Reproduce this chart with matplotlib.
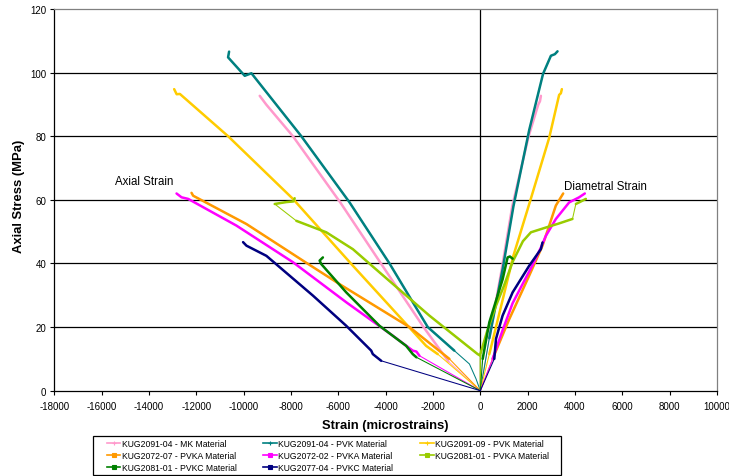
import matplotlib
matplotlib.use("Agg")
import matplotlib.pyplot as plt
from matplotlib.lines import Line2D
from matplotlib.patches import Rectangle

plt.rcParams['font.family'] = ['Liberation Sans', 'DejaVu Sans']
plt.rcParams['axes.unicode_minus'] = False

# ---------------- data (strain in microstrains, stress in MPa) ----------------
# each list of runs: densely recorded parts; joins between runs are sparse (thin)
NAMES = ["KUG2091-04 - MK Material", "KUG2091-04 - PVK Material",
         "KUG2091-09 - PVK Material", "KUG2072-07 - PVKA Material",
         "KUG2072-02 - PVKA Material", "KUG2081-01 - PVKA Material",
         "KUG2081-01 - PVKC Material", "KUG2077-04 - PVKC Material"]
COLORS = ["#FF99CC", "#008080", "#FFCC00", "#FF9900",
          "#FF00FF", "#99CC00", "#008000", "#000080"]

MK_AX_X = [[-1350, -2400, -4200, -5900, -7917, -9050, -9200, -9321]]
MK_AX_Y = [[9.2, 20.0, 40.0, 59.0, 80.0, 90.0, 91.5, 92.7]]
MK_DI_X = [[380, 900, 1350, 2040, 2450, 2520, 2560]]
MK_DI_Y = [[16.5, 38.0, 58.0, 80.0, 90.0, 91.0, 92.7]]

PVK1_AX_X = [[-180], [-460], [-1100, -2221, -3838, -5525, -7563, -9671, -9954, -10658, -10615]]
PVK1_AX_Y = [[3.7], [8.4], [12.6, 20.0, 40.0, 59.2, 80.0, 99.8, 99.0, 104.8, 106.6]]
PVK1_DI_X = [[380, 950, 1400, 2067, 2650, 2982, 3150, 3262]]
PVK1_DI_Y = [[16.5, 38.5, 58.0, 82.0, 99.6, 105.3, 105.8, 106.7]]

PVK2_AX_X = [[-1800, -2290, -5386, -7917, -10656, -12695, -12830, -12935]]
PVK2_AX_Y = [[11.5, 14.1, 39.3, 60.3, 80.0, 93.3, 93.2, 94.8]]
PVK2_DI_X = [[380, 941, 1400, 2100, 2910, 3330, 3403, 3445]]
PVK2_DI_Y = [[11.5, 28.5, 42.5, 59.5, 79.5, 93.0, 93.5, 94.8]]

PVKA1_AX_X = [[-1307, -2995, -5947, -7351, -9882, -12134, -12202]]
PVKA1_AX_Y = [[10.0, 20.0, 33.5, 40.2, 52.4, 61.3, 62.2]]
PVKA1_DI_X = [[520, 1223, 2067, 2628, 3191, 3501]]
PVKA1_DI_Y = [[10.0, 22.5, 36.2, 45.6, 58.2, 62.0]]

PVKA2_AX_X = [[-2573, -2700, -2855, -3699, -5664, -7917, -10304, -12345, -12624, -12835]]
PVKA2_AX_Y = [[11.0, 12.3, 12.6, 17.3, 27.8, 40.4, 51.9, 60.3, 60.8, 62.0]]
PVKA2_DI_X = [[520, 941, 1364, 1784, 2206, 2559, 2771, 3193, 3754, 4175, 4415]]
PVKA2_DI_Y = [[10.0, 19.0, 27.5, 33.5, 39.5, 45.0, 48.7, 54.0, 59.2, 60.8, 62.0]]

PVKA3_AX_X = [[0, -112, -2151, -4260, -5386, -6508, -7773], [-8688, -8195, -7900, -7845]]
PVKA3_AX_Y = [[11.0, 11.5, 23.6, 37.2, 44.5, 49.8, 53.4], [58.7, 59.3, 59.5, 60.5]]
PVKA3_DI_X = [[0, 300, 662, 1000, 1364, 1800, 2138, 2771, 3332, 3894], [4036, 4200, 4458]]
PVKA3_DI_Y = [[11.5, 19.0, 26.7, 33.0, 40.5, 47.0, 49.8, 51.3, 52.6, 54.0], [58.7, 59.3, 60.3]]

PVKC1_AX_X = [[-2700, -2855, -3134, -4260, -5664, -6719, -6790, -6651]]
PVKC1_AX_Y = [[10.5, 11.5, 14.1, 20.4, 30.9, 39.8, 40.9, 41.9]]
PVKC1_DI_X = [[100, 380, 941, 1153, 1250, 1364]]
PVKC1_DI_Y = [[10.0, 21.5, 35.0, 41.9, 42.2, 41.5]]

PVKC2_AX_X = [[-4188, -4542, -4610, -5664, -7073, -9039, -9882, -10024]]
PVKC2_AX_Y = [[9.4, 11.5, 12.6, 20.4, 29.9, 42.4, 45.6, 46.7]]
PVKC2_DI_X = [[590, 662, 941, 1364, 2067, 2559, 2628]]
PVKC2_DI_Y = [[10.0, 16.3, 23.6, 30.9, 39.3, 44.5, 46.6]]

AXIAL = [(MK_AX_X, MK_AX_Y), (PVK1_AX_X, PVK1_AX_Y), (PVK2_AX_X, PVK2_AX_Y),
         (PVKA1_AX_X, PVKA1_AX_Y), (PVKA2_AX_X, PVKA2_AX_Y), (PVKA3_AX_X, PVKA3_AX_Y),
         (PVKC1_AX_X, PVKC1_AX_Y), (PVKC2_AX_X, PVKC2_AX_Y)]
DIAMETRAL = [(MK_DI_X, MK_DI_Y), (PVK1_DI_X, PVK1_DI_Y), (PVK2_DI_X, PVK2_DI_Y),
             (PVKA1_DI_X, PVKA1_DI_Y), (PVKA2_DI_X, PVKA2_DI_Y), (PVKA3_DI_X, PVKA3_DI_Y),
             (PVKC1_DI_X, PVKC1_DI_Y), (PVKC2_DI_X, PVKC2_DI_Y)]

X_TICKS = list(range(-18000, 10001, 2000))
Y_TICKS = list(range(0, 121, 20))

# ---------------- figure ----------------
W, H = 729, 477
fig = plt.figure(figsize=(W / 100, H / 100), dpi=100)
L, R, T, B = 54.3, 717.0, 10.0, 391.7
ax = fig.add_axes([L / W, 1 - B / H, (R - L) / W, (B - T) / H])

ax.set_xlim(-18000, 10000)
ax.set_ylim(0, 120)
ax.set_xticks(X_TICKS)
ax.set_yticks(Y_TICKS)
ax.tick_params(axis='both', direction='out', length=3.2, width=0.8,
               labelsize=7, colors='black', pad=2.5)
ax.tick_params(axis='x', pad=4)

for y in Y_TICKS[1:-1]:
    ax.axhline(y, color='black', lw=0.9, zorder=1)
ax.axvline(0, color='black', lw=0.9, zorder=1)

for s in ['left', 'bottom']:
    ax.spines[s].set_color('black')
    ax.spines[s].set_linewidth(0.9)
for s in ['top', 'right']:
    ax.spines[s].set_color('#808080')
    ax.spines[s].set_linewidth(0.9)


def draw(runs_x, runs_y, color, z):
    px = [0.0] + [v for r in runs_x for v in r]
    py = [0.0] + [v for r in runs_y for v in r]
    ax.plot(px, py, color=color, lw=0.75, zorder=z, solid_joinstyle='round')
    for rx, ry in zip(runs_x, runs_y):
        if len(rx) > 1:
            ax.plot(rx, ry, color=color, lw=1.8, zorder=z,
                    solid_capstyle='round', solid_joinstyle='round')


for i, color in enumerate(COLORS):
    draw(AXIAL[i][0], AXIAL[i][1], color, 3 + i)
    draw(DIAMETRAL[i][0], DIAMETRAL[i][1], color, 3 + i)

ax.text(-15437, 66.0, "Axial Strain", fontsize=8.3, ha='left', va='center', zorder=20)
ax.text(3543, 64.4, "Diametral Strain", fontsize=8.3, ha='left', va='center', zorder=20)

fig.text(19.5 / W, 1 - 196 / H, "Axial Stress (MPa)", rotation=90, fontsize=9.4,
         fontweight='bold', ha='center', va='center')
fig.text(385 / W, 1 - 425.7 / H, "Strain (microstrains)", fontsize=9.4,
         fontweight='bold', ha='center', va='center')

# legend frame
fig.patches.append(Rectangle((93 / W, 1 - 476 / H), 468 / W, 39 / H,
                             transform=fig.transFigure, fill=False,
                             edgecolor='black', lw=0.9))

# legend (row-major order as in reference)
MARKERS = ['+', '+', '+', 's', 's', 's', 's', 's']
handles = [Line2D([], [], color=c, lw=1.2, marker=m, markersize=2.5, markeredgewidth=0.8)
           for c, m in zip(COLORS, MARKERS)]
order = [0, 3, 6, 1, 4, 7, 2, 5]
leg = fig.legend([handles[k] for k in order], [NAMES[k] for k in order],
                 ncol=3, loc='upper left', bbox_to_anchor=(103.7 / W, 1 - 437 / H),
                 fontsize=6.2, frameon=False,
                 handlelength=1.6, handletextpad=0.15, columnspacing=3.1,
                 labelspacing=0.35, borderpad=0.35, borderaxespad=0)

fig.savefig("out.png", dpi=100)
